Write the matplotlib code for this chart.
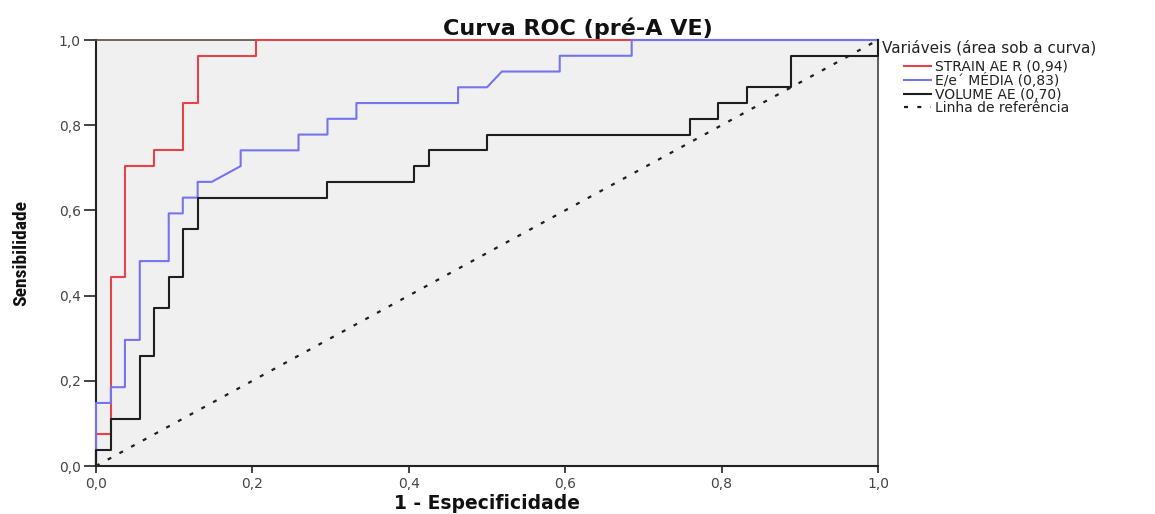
import matplotlib
matplotlib.use("Agg")
import matplotlib.pyplot as plt
from matplotlib import font_manager as fm

# ---- data ----
title = "Curva ROC (pré-A VE)"
xlabel = "1 - Especificidade"
ylabel = "Sensibilidade"
legend_title = "Variáveis (área sob a curva)"
labels = ["STRAIN AE R (0,94)", "E/e´ MÉDIA (0,83)", "VOLUME AE (0,70)", "Linha de referência"]
ticks = [0.0, 0.2, 0.4, 0.6, 0.8, 1.0]
tick_labels = ["0,0", "0,2", "0,4", "0,6", "0,8", "1,0"]

strain_fpr = [0.000, 0.000, 0.019, 0.019, 0.037, 0.037, 0.074, 0.074, 0.111, 0.111,
              0.130, 0.130, 0.204, 0.204, 1.000]
strain_tpr = [0.000, 0.074, 0.074, 0.444, 0.444, 0.704, 0.704, 0.741, 0.741, 0.852,
              0.852, 0.963, 0.963, 1.000, 1.000]

ee_fpr = [0.000, 0.000, 0.019, 0.019, 0.037, 0.037, 0.056, 0.056, 0.093, 0.093,
          0.111, 0.111, 0.130, 0.130, 0.148, 0.185, 0.185, 0.259, 0.259, 0.296,
          0.296, 0.333, 0.333, 0.463, 0.463, 0.500, 0.519, 0.593, 0.593, 0.685,
          0.685, 1.000]
ee_tpr = [0.000, 0.148, 0.148, 0.185, 0.185, 0.296, 0.296, 0.481, 0.481, 0.593,
          0.593, 0.630, 0.630, 0.667, 0.667, 0.704, 0.741, 0.741, 0.778, 0.778,
          0.815, 0.815, 0.852, 0.852, 0.889, 0.889, 0.926, 0.926, 0.963, 0.963,
          1.000, 1.000]

vol_fpr = [0.000, 0.000, 0.019, 0.019, 0.056, 0.056, 0.074, 0.074, 0.093, 0.093,
           0.111, 0.111, 0.130, 0.130, 0.296, 0.296, 0.407, 0.407, 0.426, 0.426,
           0.500, 0.500, 0.759, 0.759, 0.796, 0.796, 0.833, 0.833, 0.889, 0.889,
           1.000, 1.000]
vol_tpr = [0.000, 0.037, 0.037, 0.111, 0.111, 0.259, 0.259, 0.370, 0.370, 0.444,
           0.444, 0.556, 0.556, 0.630, 0.630, 0.667, 0.667, 0.704, 0.704, 0.741,
           0.741, 0.778, 0.778, 0.815, 0.815, 0.852, 0.852, 0.889, 0.889, 0.963,
           0.963, 1.000]

ref_x = [0.0, 1.0]
ref_y = [0.0, 1.0]

colors = ["#E4434B", "#7474EE", "#1E1E1E", "#1E1E1E"]

# ---- figure ----
W, H = 1155, 514
fig = plt.figure(figsize=(W / 100, H / 100), dpi=100)
fig.patch.set_facecolor("white")
ax = fig.add_axes([96 / W, 1 - 466 / H, (878 - 96) / W, (466 - 40) / H])
ax.set_facecolor("#F0F0F0")

l1, = ax.plot(strain_fpr, strain_tpr, color=colors[0], lw=1.5, clip_on=False, zorder=3)
l2, = ax.plot(ee_fpr, ee_tpr, color=colors[1], lw=1.5, clip_on=False, zorder=3)
l3, = ax.plot(vol_fpr, vol_tpr, color=colors[2], lw=1.5, clip_on=False, zorder=4)
l4, = ax.plot(ref_x, ref_y, color=colors[3], lw=1.6, linestyle=(0, (1.8, 4.2)), zorder=2)

ax.set_xlim(0, 1)
ax.set_ylim(0, 1)
ax.set_xticks(ticks)
ax.set_xticklabels(tick_labels)
ax.set_yticks(ticks)
ax.set_yticklabels(tick_labels)
ax.tick_params(axis="x", direction="out", length=5, width=1.2, pad=3,
               labelsize=10, labelcolor="#444444", color="#222222")
ax.tick_params(axis="y", direction="out", length=9, width=1.2, pad=2,
               labelsize=10, labelcolor="#444444", color="#222222")
for side in ["left", "bottom"]:
    ax.spines[side].set_linewidth(1.5)
    ax.spines[side].set_color("#222222")
ax.spines["top"].set_linewidth(1.2)
ax.spines["top"].set_color("#5a4a44")
ax.spines["right"].set_linewidth(1.2)
ax.spines["right"].set_color("#444444")

# fonts: prefer a condensed bold face for the rotated y label
names = {f.name for f in fm.fontManager.ttflist}
yfam, ysize = "Liberation Sans", 12
for cand, sz in [("Liberation Sans Narrow", 14), ("DejaVu Sans Condensed", 12.5),
                 ("Roboto Condensed", 14), ("Open Sans Condensed", 14),
                 ("Noto Sans Condensed", 13.5), ("Arial Narrow", 14)]:
    if cand in names:
        yfam, ysize = cand, sz
        break

fig.text(0.5, 1 - 35 / H, title, ha="center", va="baseline",
         fontsize=16, fontweight="bold", color="#111111")
fig.text(487 / W, 1 - 509 / H, xlabel, ha="center", va="baseline",
         fontsize=13.5, fontweight="bold", color="#111111")
fig.text(21 / W, 1 - 253 / H, ylabel, rotation=90, ha="center", va="center",
         fontsize=ysize, fontweight="bold", family=yfam, color="#111111")

fig.text(882 / W, 1 - 48 / H, legend_title, ha="left", va="center",
         fontsize=11, color="#222222")
fig.legend([l1, l2, l3, l4], labels, loc="upper left",
           bbox_to_anchor=(904 / W, 1 - 60 / H), frameon=False,
           fontsize=10, borderpad=0, borderaxespad=0, handlelength=1.95,
           handletextpad=0.25, labelspacing=-0.05, labelcolor="#222222")

fig.savefig("out.png", dpi=100, facecolor="white")
